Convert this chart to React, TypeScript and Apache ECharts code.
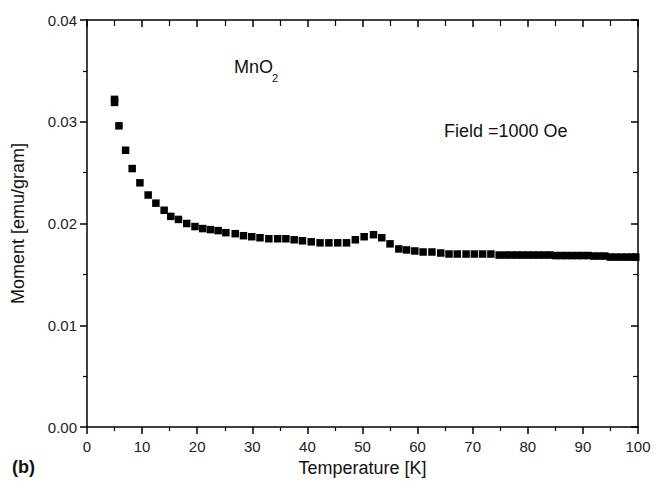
import React, { useEffect, useRef } from "react";
import * as echarts from "echarts";

const temperature = [
  5.0, 5.0, 5.8, 7.0, 8.2, 9.6, 11.1, 12.5, 14.0, 15.2,
  16.6, 18.1, 19.6, 21.0, 22.4, 23.8, 25.2, 26.9, 28.4, 29.9,
  31.4, 33.0, 34.6, 36.1, 37.6, 39.1, 40.7, 42.3, 43.9, 45.5,
  47.1, 48.7, 50.3, 52.0, 53.5, 55.0, 56.6, 58.0, 59.5, 61.0,
  62.6, 64.2, 65.7, 67.2, 68.8, 70.3, 71.8, 73.3, 74.8,
  76, 77, 78, 79, 80, 81, 82, 83, 84, 85, 86, 87, 88, 89, 90, 91,
  92, 93, 94, 95, 96, 97, 98, 99, 99.6,
];

const moment = [
  0.0322, 0.0319, 0.0296, 0.0272, 0.0254, 0.024, 0.0228, 0.022, 0.0213, 0.0207,
  0.0204, 0.02, 0.0197, 0.0195, 0.0194, 0.0193, 0.0191, 0.019, 0.0188, 0.0187,
  0.0186, 0.0185, 0.0185, 0.0185, 0.0184, 0.0183, 0.0182, 0.0181, 0.0181, 0.0181,
  0.0181, 0.0184, 0.0187, 0.0189, 0.0186, 0.018, 0.0175, 0.0174, 0.0173, 0.0172,
  0.0172, 0.0171, 0.017, 0.017, 0.017, 0.017, 0.017, 0.017, 0.0169,
  0.0169, 0.0169, 0.0169, 0.0169, 0.0169, 0.0169, 0.0169, 0.0169, 0.0169,
  0.01685, 0.01685, 0.01685, 0.01685, 0.01685, 0.01685, 0.01685,
  0.0168, 0.0168, 0.0168,
  0.0167, 0.0167, 0.0167, 0.0167, 0.0167, 0.0167,
];

const xTitle = "Temperature [K]";
const yTitle = "Moment [emu/gram]";
const sampleLabel = "MnO";
const sampleSub = "2";
const fieldLabel = "Field =1000 Oe";
const panelLabel = "(b)";

const FONT = "Liberation Sans, Arial, Helvetica, sans-serif";

export default function App() {
  const ref = useRef<HTMLDivElement>(null);

  useEffect(() => {
    document.body.style.margin = "0";
    if (!ref.current) return;
    const chart = echarts.init(ref.current, undefined, { renderer: "svg" });
    const data = temperature.map((t, i) => [t, moment[i]]);
    const line = { color: "#000", width: 1.5 };
    const baseX = {
      type: "value" as const,
      min: 0,
      max: 100,
      interval: 10,
      splitLine: { show: false },
      minorSplitLine: { show: false },
    };
    const baseY = {
      type: "value" as const,
      min: 0,
      max: 0.04,
      interval: 0.01,
      splitLine: { show: false },
      minorSplitLine: { show: false },
    };
    chart.setOption({
      animation: false,
      backgroundColor: "#fff",
      grid: { left: 87, right: 16, top: 20, bottom: 63, containLabel: false },
      xAxis: [
        {
          ...baseX,
          position: "bottom",
          axisLine: { show: true, onZero: false, lineStyle: line },
          axisTick: { show: true, inside: false, length: 7, lineStyle: line },
          minorTick: { show: true, splitNumber: 2, length: 4, lineStyle: { color: "#000", width: 1.2 } },
          axisLabel: { color: "#222", fontSize: 15, fontFamily: FONT, margin: 12 },
          name: xTitle,
          nameLocation: "middle",
          nameGap: 32,
          nameTextStyle: { fontSize: 18, color: "#111", fontFamily: FONT },
        },
        {
          ...baseX,
          position: "top",
          axisLine: { show: true, onZero: false, lineStyle: line },
          axisTick: { show: true, inside: true, length: 7, lineStyle: line },
          minorTick: { show: true, splitNumber: 2, length: 6, lineStyle: { color: "#000", width: 1.2 } },
          axisLabel: { show: false },
        },
      ],
      yAxis: [
        {
          ...baseY,
          position: "left",
          axisLine: { show: true, onZero: false, lineStyle: line },
          axisTick: { show: true, inside: false, length: 7, lineStyle: line },
          minorTick: { show: true, splitNumber: 2, length: 4, lineStyle: { color: "#000", width: 1.2 } },
          axisLabel: {
            color: "#222",
            fontSize: 15,
            fontFamily: FONT,
            margin: 10,
            formatter: (v: number) => v.toFixed(2),
          },
          name: yTitle,
          nameLocation: "middle",
          nameGap: 60,
          nameRotate: 90,
          nameTextStyle: { fontSize: 18, color: "#111", fontFamily: FONT },
        },
        {
          ...baseY,
          position: "right",
          axisLine: { show: true, onZero: false, lineStyle: line },
          axisTick: { show: true, inside: true, length: 7, lineStyle: line },
          minorTick: { show: true, splitNumber: 2, length: 5, lineStyle: { color: "#000", width: 1.2 } },
          axisLabel: { show: false },
        },
      ],
      series: [
        {
          type: "scatter",
          xAxisIndex: 0,
          yAxisIndex: 0,
          symbol: "rect",
          symbolSize: 7.5,
          itemStyle: { color: "#000", opacity: 1 },
          data,
        },
      ],
      graphic: [
        {
          type: "text",
          left: 234,
          top: 58,
          style: { text: sampleLabel, fontSize: 18, fontFamily: FONT, fill: "#111" },
        },
        {
          type: "text",
          left: 272,
          top: 72,
          style: { text: sampleSub, fontSize: 11, fontFamily: FONT, fill: "#111" },
        },
        {
          type: "text",
          left: 444,
          top: 122,
          style: { text: fieldLabel, fontSize: 18, fontFamily: FONT, fill: "#111" },
        },
        {
          type: "text",
          left: 12,
          top: 458,
          style: { text: panelLabel, fontSize: 18, fontWeight: "bold", fontFamily: FONT, fill: "#111" },
        },
      ],
    });
    return () => chart.dispose();
  }, []);

  return <div ref={ref} style={{ width: 654, height: 490 }} />;
}
